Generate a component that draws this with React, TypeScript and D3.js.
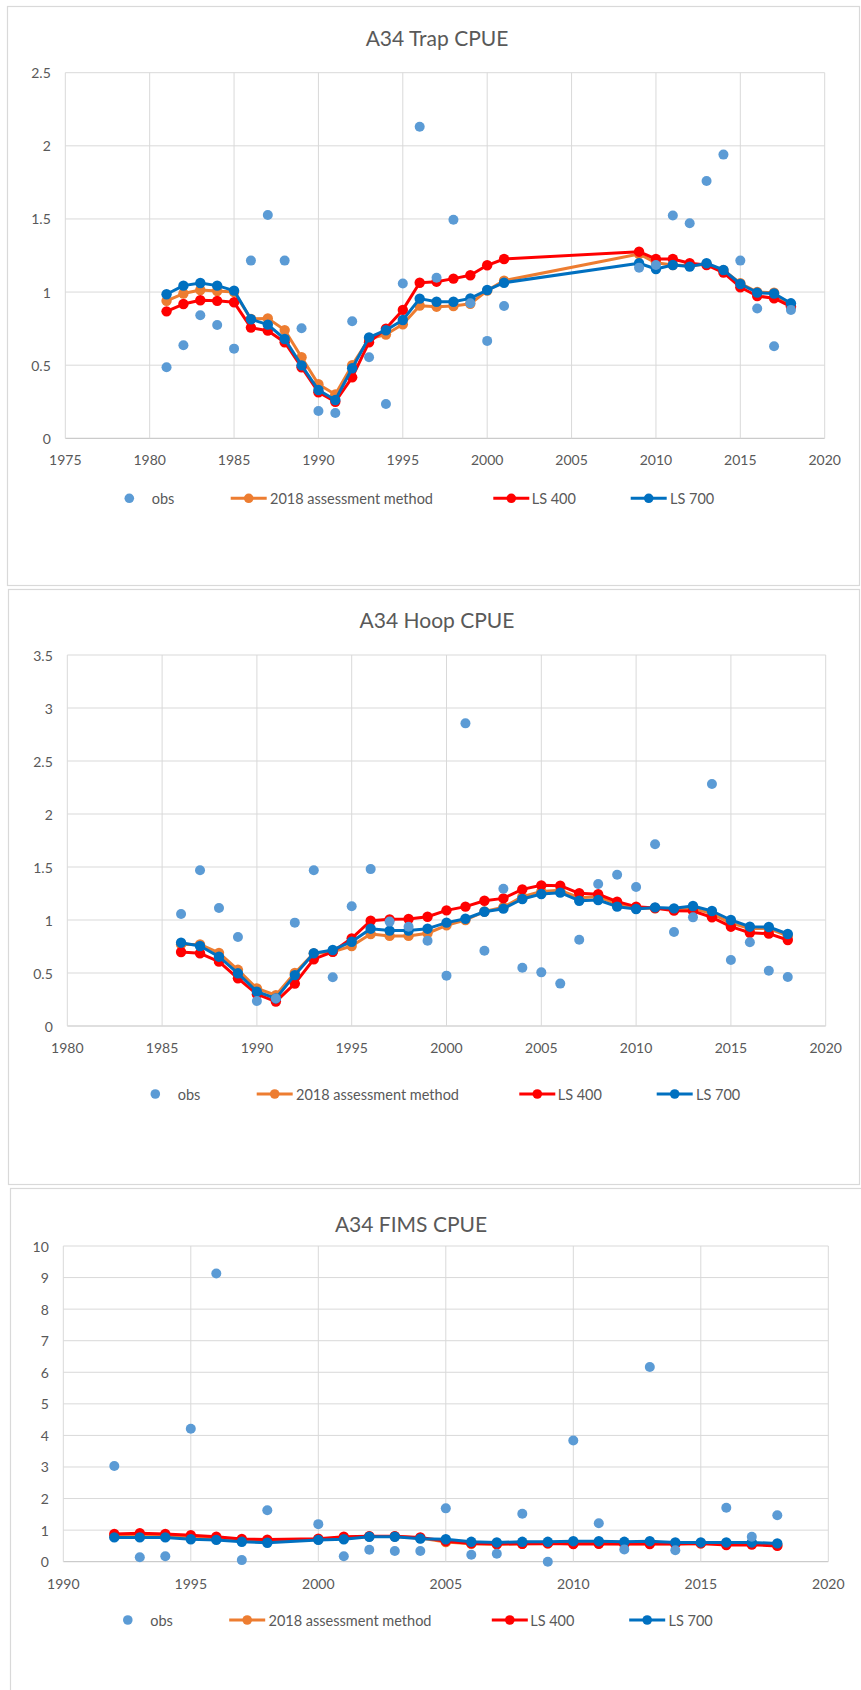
import React from 'react';
import * as d3 from 'd3';

// ---------- DATA ----------
const seriesNames = ['obs', '2018 assessment method', 'LS 400', 'LS 700'];

// Panel 1: A34 Trap CPUE
const trapYears = [1981, 1982, 1983, 1984, 1985, 1986, 1987, 1988, 1989, 1990, 1991, 1992, 1993, 1994, 1995, 1996, 1997, 1998, 1999, 2000, 2001, 2009, 2010, 2011, 2012, 2013, 2014, 2015, 2016, 2017, 2018];
const trapObs = [0.486, 0.636, 0.841, 0.775, 0.613, 1.215, 1.527, 1.215, 0.752, 0.187, 0.173, 0.8, 0.554, 0.235, 1.058, 2.13, 1.098, 1.494, 0.923, 0.666, 0.905, 1.167, 1.185, 1.523, 1.47, 1.76, 1.94, 1.215, 0.887, 0.63, 0.878];
const trapAssess = [0.94, 0.99, 1.014, 1.007, 1.0, 0.816, 0.82, 0.74, 0.554, 0.37, 0.3, 0.5, 0.68, 0.71, 0.78, 0.907, 0.9, 0.905, 0.92, 1.01, 1.078, 1.26, 1.2, 1.185, 1.18, 1.19, 1.15, 1.06, 1.0, 0.995, 0.9];
const trapLS400 = [0.868, 0.918, 0.944, 0.94, 0.93, 0.757, 0.736, 0.657, 0.486, 0.315, 0.25, 0.417, 0.657, 0.75, 0.878, 1.064, 1.071, 1.092, 1.115, 1.183, 1.226, 1.276, 1.226, 1.226, 1.197, 1.185, 1.133, 1.033, 0.973, 0.958, 0.9];
const trapLS700 = [0.985, 1.044, 1.062, 1.044, 1.01, 0.814, 0.777, 0.679, 0.499, 0.33, 0.262, 0.479, 0.69, 0.739, 0.809, 0.955, 0.934, 0.934, 0.957, 1.014, 1.064, 1.197, 1.158, 1.185, 1.174, 1.197, 1.151, 1.055, 0.996, 0.99, 0.923];
const trapXTicks = [1975, 1980, 1985, 1990, 1995, 2000, 2005, 2010, 2015, 2020];
const trapYTicks = [0, 0.5, 1, 1.5, 2, 2.5];

// Panel 2: A34 Hoop CPUE
const hoopYears = [1986, 1987, 1988, 1989, 1990, 1991, 1992, 1993, 1994, 1995, 1996, 1997, 1998, 1999, 2000, 2001, 2002, 2003, 2004, 2005, 2006, 2007, 2008, 2009, 2010, 2011, 2012, 2013, 2014, 2015, 2016, 2017, 2018];
const hoopObs = [1.057, 1.47, 1.113, 0.84, 0.236, 0.26, 0.975, 1.47, 0.46, 1.13, 1.48, 0.985, 0.937, 0.805, 0.475, 2.855, 0.71, 1.295, 0.55, 0.506, 0.4, 0.814, 1.34, 1.427, 1.311, 1.714, 0.887, 1.025, 2.283, 0.623, 0.79, 0.522, 0.462];
const hoopAssess = [0.77, 0.77, 0.69, 0.53, 0.355, 0.29, 0.5, 0.685, 0.7, 0.755, 0.868, 0.85, 0.85, 0.875, 0.95, 1.0, 1.08, 1.12, 1.22, 1.27, 1.28, 1.21, 1.22, 1.15, 1.11, 1.11, 1.1, 1.11, 1.06, 0.97, 0.92, 0.92, 0.85];
const hoopLS400 = [0.698, 0.686, 0.607, 0.45, 0.3, 0.23, 0.4, 0.63, 0.7, 0.827, 0.993, 1.006, 1.009, 1.031, 1.091, 1.126, 1.182, 1.204, 1.289, 1.327, 1.324, 1.252, 1.243, 1.173, 1.126, 1.113, 1.088, 1.085, 1.025, 0.937, 0.88, 0.871, 0.811];
const hoopLS700 = [0.786, 0.755, 0.654, 0.497, 0.324, 0.26, 0.48, 0.686, 0.717, 0.795, 0.918, 0.9, 0.9, 0.918, 0.975, 1.012, 1.078, 1.107, 1.198, 1.245, 1.258, 1.182, 1.189, 1.126, 1.104, 1.119, 1.11, 1.132, 1.085, 1.0, 0.937, 0.934, 0.868];
const hoopXTicks = [1980, 1985, 1990, 1995, 2000, 2005, 2010, 2015, 2020];
const hoopYTicks = [0, 0.5, 1, 1.5, 2, 2.5, 3, 3.5];

// Panel 3: A34 FIMS CPUE
const fimsYears = [1992, 1993, 1994, 1995, 1996, 1997, 1998, 2000, 2001, 2002, 2003, 2004, 2005, 2006, 2007, 2008, 2009, 2010, 2011, 2012, 2013, 2014, 2015, 2016, 2017, 2018];
const fimsObs = [3.03, 0.14, 0.17, 4.21, 9.13, 0.05, 1.63, 1.19, 0.17, 0.38, 0.34, 0.34, 1.69, 0.22, 0.25, 1.52, 0.0, 3.84, 1.22, 0.39, 6.17, 0.36, null, 1.71, 0.79, 1.47];
const fimsAssess = [0.82, 0.84, 0.82, 0.78, 0.74, 0.68, 0.66, 0.71, 0.75, 0.8, 0.8, 0.75, 0.62, 0.57, 0.55, 0.57, 0.58, 0.58, 0.58, 0.57, 0.58, 0.57, 0.58, 0.56, 0.57, 0.53];
const fimsLS400 = [0.88, 0.9, 0.88, 0.84, 0.79, 0.72, 0.7, 0.73, 0.79, 0.81, 0.81, 0.77, 0.65, 0.58, 0.56, 0.57, 0.58, 0.56, 0.57, 0.56, 0.56, 0.56, 0.58, 0.53, 0.54, 0.5];
const fimsLS700 = [0.77, 0.77, 0.77, 0.71, 0.69, 0.63, 0.6, 0.69, 0.71, 0.79, 0.79, 0.73, 0.71, 0.63, 0.61, 0.63, 0.63, 0.65, 0.65, 0.63, 0.65, 0.61, 0.61, 0.61, 0.61, 0.58];
const fimsXTicks = [1990, 1995, 2000, 2005, 2010, 2015, 2020];
const fimsYTicks = [0, 1, 2, 3, 4, 5, 6, 7, 8, 9, 10];

// ---------- STYLE ----------
const COLORS = { obs: '#5B9BD5', assess: '#ED7D31', ls400: '#FF0000', ls700: '#0070C0' };
const FONT = "Lato, 'Open Sans', sans-serif";
const TEXT = '#595959';
const GRID = '#d9d9d9';

type PanelCfg = {
  title: string;
  years: number[];
  obs: (number | null)[];
  assess: number[];
  ls400: number[];
  ls700: number[];
  xTicks: number[];
  yTicks: number[];
  box: { x: number; y: number; w: number; h: number };
  titleX: number;
  titleY: number;
  plot: { left: number; right: number; top: number; bottom: number };
  legendY: number;
  legendShift: number;
};

const panels: PanelCfg[] = [
  {
    title: 'A34 Trap CPUE', years: trapYears, obs: trapObs, assess: trapAssess, ls400: trapLS400, ls700: trapLS700,
    xTicks: trapXTicks, yTicks: trapYTicks,
    box: { x: 7.5, y: 6.5, w: 852, h: 579 },
    titleX: 437, titleY: 37,
    plot: { left: 65.3, right: 824.7, top: 72.7, bottom: 438.3 },
    legendY: 498.3, legendShift: 0,
  },
  {
    title: 'A34 Hoop CPUE', years: hoopYears, obs: hoopObs, assess: hoopAssess, ls400: hoopLS400, ls700: hoopLS700,
    xTicks: hoopXTicks, yTicks: hoopYTicks,
    box: { x: 8.5, y: 589.5, w: 851, h: 595 },
    titleX: 437, titleY: 619.5,
    plot: { left: 67.3, right: 825.7, top: 655, bottom: 1026 },
    legendY: 1094, legendShift: 26,
  },
  {
    title: 'A34 FIMS CPUE', years: fimsYears, obs: fimsObs, assess: fimsAssess, ls400: fimsLS400, ls700: fimsLS700,
    xTicks: fimsXTicks, yTicks: fimsYTicks,
    box: { x: 10.5, y: 1188.5, w: 860, h: 560 },
    titleX: 411, titleY: 1223,
    plot: { left: 63.3, right: 828.3, top: 1246, bottom: 1561.7 },
    legendY: 1620, legendShift: -1.5,
  },
];

function Panel({ cfg }: { cfg: PanelCfg }) {
  const { plot } = cfg;
  const x = d3.scaleLinear().domain([cfg.xTicks[0], cfg.xTicks[cfg.xTicks.length - 1]]).range([plot.left, plot.right]);
  const y = d3.scaleLinear().domain([cfg.yTicks[0], cfg.yTicks[cfg.yTicks.length - 1]]).range([plot.bottom, plot.top]);
  const line = d3.line<[number, number]>().x((d) => x(d[0])).y((d) => y(d[1]));

  const lineSeries = [
    { key: 'assess', vals: cfg.assess, color: COLORS.assess },
    { key: 'ls400', vals: cfg.ls400, color: COLORS.ls400 },
    { key: 'ls700', vals: cfg.ls700, color: COLORS.ls700 },
  ];
  const obsPts = cfg.years.map((yr, i) => [yr, cfg.obs[i]] as [number, number | null]).filter((p) => p[1] !== null) as [number, number][];

  const s = cfg.legendShift;
  const ly = cfg.legendY;
  const legendLines = [
    { x0: 230.7, x1: 266.7, tx: 270, color: COLORS.assess, label: seriesNames[1] },
    { x0: 493.3, x1: 529.3, tx: 531.7, color: COLORS.ls400, label: seriesNames[2] },
    { x0: 630.7, x1: 666.7, tx: 670, color: COLORS.ls700, label: seriesNames[3] },
  ];

  return (
    <g>
      <rect x={cfg.box.x} y={cfg.box.y} width={cfg.box.w} height={cfg.box.h} fill="#fff" stroke="#d9d9d9" strokeWidth={1.2} />
      <text x={cfg.titleX} y={cfg.titleY} textAnchor="middle" dominantBaseline="central" fontFamily={FONT} fontSize={21} fill={TEXT}>{cfg.title}</text>
      {/* grid */}
      {cfg.yTicks.map((t) => (
        <line key={'gy' + t} x1={plot.left} x2={plot.right} y1={y(t)} y2={y(t)} stroke={t === 0 ? '#bfbfbf' : GRID} strokeWidth={1} />
      ))}
      {cfg.xTicks.map((t) => (
        <line key={'gx' + t} x1={x(t)} x2={x(t)} y1={plot.top} y2={plot.bottom} stroke={GRID} strokeWidth={1} />
      ))}
      {/* tick labels */}
      {cfg.yTicks.map((t) => (
        <text key={'ly' + t} x={plot.left - 14.5} y={y(t)} textAnchor="end" dominantBaseline="central" fontFamily={FONT} fontSize={14} fill={TEXT}>{String(t)}</text>
      ))}
      {cfg.xTicks.map((t) => (
        <text key={'lx' + t} x={x(t)} y={plot.bottom + 21.5} textAnchor="middle" dominantBaseline="central" fontFamily={FONT} fontSize={14} fill={TEXT}>{String(t)}</text>
      ))}
      {/* lines */}
      {lineSeries.map((sr) => {
        const pts = cfg.years.map((yr, i) => [yr, sr.vals[i]] as [number, number]);
        return (
          <g key={sr.key}>
            <path d={line(pts) || ''} fill="none" stroke={sr.color} strokeWidth={3} strokeLinejoin="round" />
            {pts.map((p, i) => (
              <circle key={i} cx={x(p[0])} cy={y(p[1])} r={5.2} fill={sr.color} />
            ))}
          </g>
        );
      })}
      {/* obs */}
      {obsPts.map((p, i) => (
        <circle key={'o' + i} cx={x(p[0])} cy={y(p[1])} r={5} fill={COLORS.obs} />
      ))}
      {/* legend */}
      <circle cx={129.3 + s} cy={ly} r={4.8} fill={COLORS.obs} />
      <text x={151.7 + s} y={ly} dominantBaseline="central" fontFamily={FONT} fontSize={14.5} fill={TEXT}>{seriesNames[0]}</text>
      {legendLines.map((l) => (
        <g key={l.label}>
          <line x1={l.x0 + s} x2={l.x1 + s} y1={ly} y2={ly} stroke={l.color} strokeWidth={3} />
          <circle cx={(l.x0 + l.x1) / 2 + s} cy={ly} r={4.8} fill={l.color} />
          <text x={l.tx + s} y={ly} dominantBaseline="central" fontFamily={FONT} fontSize={14.5} fill={TEXT}>{l.label}</text>
        </g>
      ))}
    </g>
  );
}

export default function App() {
  return (
    <div style={{ position: 'absolute', left: 0, top: 0, width: 861, height: 1690, background: '#fff' }}>
      <svg width={861} height={1690} viewBox="0 0 861 1690" style={{ display: 'block' }}>
        <rect x={0} y={0} width={861} height={1690} fill="#fff" />
        {panels.map((p) => (
          <Panel key={p.title} cfg={p} />
        ))}
      </svg>
    </div>
  );
}
